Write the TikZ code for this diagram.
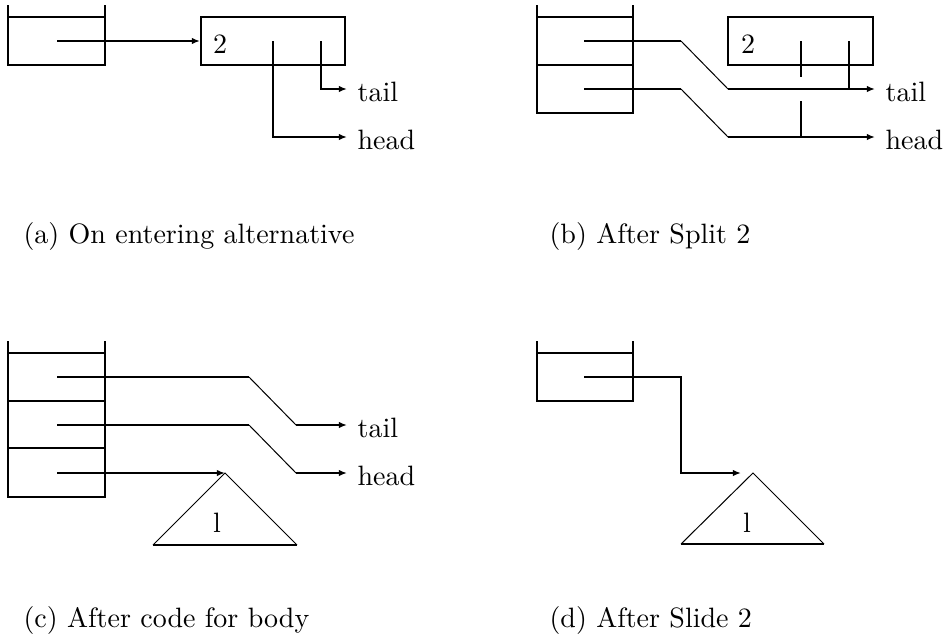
\documentclass[tikz,border=0pt]{standalone}
\usepackage{amssymb}
\usepackage{tikz}
\usetikzlibrary{positioning}
\usetikzlibrary{arrows.meta}
\tikzset {
  % stack frames and records
  frame/.style = {line width=0.72pt},
  record/.style = {draw, line width=0.72pt, inner sep=0pt},
  % pointers
  ptr/.style = {line width=0.72pt, -{Latex[length=2.9pt,width=2.3pt]}},
  link/.style = {line width=0.72pt},
  slant/.style = {line width=0.36pt},
  % names at the end of a pointer
  var/.style = {anchor=west, inner xsep=3.6pt, inner ysep=0pt, text height=9pt, text depth=0pt},
  caption/.style = {anchor=base west, inner sep=0pt},
}

\begin{document}
\begin{tikzpicture}[x=0.357pt, y=-0.357pt]
        \useasboundingbox (0,0) rectangle (945,641);

        % (a) On entering alternative
        \draw[frame] (8,5) -- (8,65) -- (105,65) -- (105,5);
        \draw[frame] (8,17) -- (105,17);
        \coordinate (a1) at (57,41);
        \node[record, minimum width=144*0.357pt, minimum height=48*0.357pt] (arec) at (273,41) {};
        \node (atwo) at (220,44) {2};
        \coordinate (ah) at (273,41);
        \coordinate (at) at (321,41);
        \node[var] (atail) at (347,89) {tail};
        \node[var] (ahead) at (347,137) {head};
        \draw[ptr] (a1) -- (arec.west);
        \draw[ptr] (at) |- (atail.west);
        \draw[ptr] (ah) |- (ahead.west);
        \node[caption] (acap) at (23,243) {(a) On entering alternative};

        % (b) After Split 2
        \draw[frame] (537,5) -- (537,113) -- (633,113) -- (633,5);
        \draw[frame] (537,17) -- (633,17);
        \draw[frame] (537,65) -- (633,65);
        \coordinate (b1) at (584,41);
        \coordinate (b2) at (584,89);
        \coordinate (b1k) at (681,41);
        \coordinate (b2k) at (681,89);
        \coordinate (b1m) at (728,89);
        \coordinate (b2m) at (728,137);
        \node[record, minimum width=145*0.357pt, minimum height=48*0.357pt] (brec) at (800.5,41) {};
        \node (btwo) at (748,44) {2};
        \node[var] (btail) at (875,89) {tail};
        \node[var] (bhead) at (875,137) {head};
        \draw[link] (b1) -- (b1k);
        \draw[slant] (b1k) -- (b1m);
        \draw[ptr] (b1m) -- (btail.west);
        \draw[link] (b2) -- (b2k);
        \draw[slant] (b2k) -- (b2m);
        \draw[ptr] (b2m) -- (bhead.west);
        \draw[link] (849,41) -- (849,89);
        \draw[link] (801,41) -- (801,77);
        \draw[link] (801,101) -- (801,137);
        \node[caption] (bcap) at (549,243) {(b) After Split 2};

        % (c) After code for body
        \draw[frame] (8,341) -- (8,497) -- (105,497) -- (105,341);
        \foreach \y in {353,401,448}
          \draw[frame] (8,\y) -- (105,\y);
        \coordinate (c1) at (57,377);
        \coordinate (c2) at (57,425);
        \coordinate (c3) at (57,473);
        \coordinate (c1k) at (249,377);
        \coordinate (c2k) at (249,425);
        \coordinate (c1m) at (296,425);
        \coordinate (c2m) at (296,473);
        \node[var] (ctail) at (347,425) {tail};
        \node[var] (chead) at (347,473) {head};
        \draw[link] (c1) -- (c1k);
        \draw[slant] (c1k) -- (c1m);
        \draw[ptr] (c1m) -- (ctail.west);
        \draw[link] (c2) -- (c2k);
        \draw[slant] (c2k) -- (c2m);
        \draw[ptr] (c2m) -- (chead.west);
        \coordinate (ctop) at (225,473);
        \draw[slant] (153,545) -- (ctop) -- (297,545);
        \draw[frame] (153,545) -- (297,545);
        \node (cl) at (217,523) {l};
        \draw[ptr] (c3) -- (ctop);
        \node[caption] (ccap) at (23,627) {(c) After code for body};

        % (d) After Slide 2
        \draw[frame] (537,341) -- (537,401) -- (633,401) -- (633,341);
        \draw[frame] (537,353) -- (633,353);
        \coordinate (d1) at (584,377);
        \coordinate (dend) at (741,473);
        \coordinate (dtop) at (753,473);
        \draw[ptr] (d1) -| (681,473) -- (dend);
        \draw[slant] (681,544) -- (dtop) -- (824,544);
        \draw[frame] (681,544) -- (824,544);
        \node (dl) at (747,523) {l};
        \node[caption] (dcap) at (549,627) {(d) After Slide 2};
\end{tikzpicture}
\end{document}
